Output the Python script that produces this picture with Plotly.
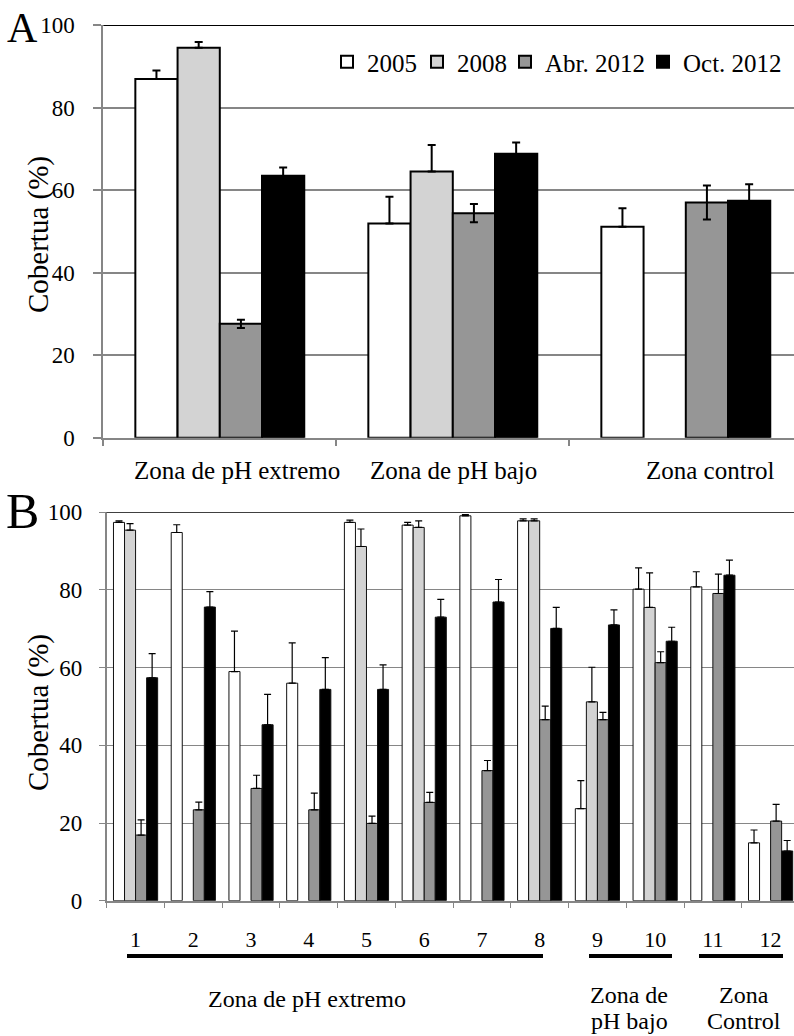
import plotly.graph_objects as go

W, H = 794, 1036

# ---------------- data ----------------
series_names = ["2005", "2008", "Abr. 2012", "Oct. 2012"]
series_colors = ["#FFFFFF", "#D3D3D3", "#969696", "#000000"]

# Panel A
zones_A = ["Zona de pH extremo", "Zona de pH bajo", "Zona control"]
a_2005 = [86.9, 51.9, 51.1]
a_2005_err = [2.1, 6.5, 4.5]
a_2008 = [94.5, 64.5, None]
a_2008_err = [1.4, 6.4, 0]
a_abr2012 = [27.6, 54.4, 57.0]
a_abr2012_err = [1.0, 2.2, 4.1]
a_oct2012 = [63.5, 68.8, 57.4]
a_oct2012_err = [2.0, 2.7, 4.0]

# Panel B
sites_B = ["1", "2", "3", "4", "5", "6", "7", "8", "9", "10", "11", "12"]
b_2005 = [97.4, 94.8, 59.0, 56.0, 97.4, 96.7, 99.1, 97.8, 23.7, 80.2, 80.8, 14.9]
b_2005_err = [0.4, 2.0, 10.4, 10.4, 0.6, 0.7, 0.3, 0.5, 7.2, 5.5, 3.9, 3.3]
b_2008 = [95.4, None, None, None, 91.2, 96.1, None, 97.8, 51.2, 75.5, None, None]
b_2008_err = [1.7, 0, 0, 0, 4.5, 1.7, 0, 0.5, 8.9, 8.9, 0, 0]
b_abr2012 = [16.9, 23.4, 28.9, 23.4, 19.9, 25.3, 33.5, 46.6, 46.6, 61.3, 79.1, 20.5]
b_abr2012_err = [3.9, 2.0, 3.4, 4.3, 1.9, 2.6, 2.6, 3.5, 1.9, 2.8, 5.0, 4.3]
b_oct2012 = [57.4, 75.6, 45.3, 54.4, 54.4, 73.0, 76.9, 70.1, 71.0, 66.8, 83.8, 12.8]
b_oct2012_err = [6.2, 4.0, 7.8, 8.2, 6.3, 4.6, 5.8, 5.4, 3.9, 3.6, 3.9, 2.7]

groups_B = [("Zona de pH extremo",), ("Zona de", "pH bajo"), ("Zona", "Control")]

y_ticks = [0, 20, 40, 60, 80, 100]

# ---------------- helpers ----------------
def px(x):
    return x / W

def py(y):
    return 1 - y / H

FONT = "Liberation Serif"
GRID = "#868686"

fig = go.Figure()

A_vals = [a_2005, a_2008, a_abr2012, a_oct2012]
A_errs = [a_2005_err, a_2008_err, a_abr2012_err, a_oct2012_err]
A_sym = [False, False, True, True]
legend_ids = ["legend", "legend2", "legend3", "legend4"]

for i, name in enumerate(series_names):
    err = dict(type="data", array=A_errs[i], color="black", thickness=2, width=4, visible=True)
    if A_sym[i]:
        err["symmetric"] = True
    else:
        err["symmetric"] = False
        err["arrayminus"] = [0] * len(A_errs[i])
    fig.add_trace(go.Bar(
        x=zones_A, y=A_vals[i], name=name,
        marker=dict(color=series_colors[i], line=dict(color="black", width=2)),
        error_y=err, xaxis="x", yaxis="y", legend=legend_ids[i], showlegend=True,
    ))

B_vals = [b_2005, b_2008, b_abr2012, b_oct2012]
B_errs = [b_2005_err, b_2008_err, b_abr2012_err, b_oct2012_err]
B_gap = 0.235
B_w = (1 - B_gap) / 4
for i, name in enumerate(series_names):
    fig.add_trace(go.Bar(
        x=sites_B, y=B_vals[i], name=name,
        width=B_w, offset=-(1 - B_gap) / 2 + i * B_w,
        marker=dict(color=series_colors[i], line=dict(color="#111111", width=1)),
        error_y=dict(type="data", array=B_errs[i], arrayminus=[0] * len(B_errs[i]),
                     symmetric=False, color="black", thickness=1.2, width=3.5),
        xaxis="x2", yaxis="y2", showlegend=False,
    ))

# axes geometry (pixels measured from reference)
A_left, A_top, A_bottom = 103.3, 25.0, 437.7
A_cat = 233.0
B_left, B_top, B_bottom = 106.7, 512.3, 900.7
B_cat = 57.73

common_y = dict(
    range=[0, 100], tickvals=y_ticks, showgrid=True, gridcolor=GRID,
    zeroline=False, showline=True, linecolor=GRID, ticks="outside",
    tickcolor=GRID, tickfont=dict(family=FONT, size=23, color="black"),
    automargin=False,
)

fig.update_layout(
    width=W, height=H, margin=dict(l=0, r=0, t=0, b=0, pad=0, autoexpand=False),
    paper_bgcolor="white", plot_bgcolor="white",
    barmode="group", bargap=0.275,
    showlegend=True,
    font=dict(family=FONT, color="black"),
    xaxis=dict(domain=[px(A_left), 1], range=[-0.5, -0.5 + (W - A_left) / A_cat],
               type="category", showticklabels=False, showline=True, linecolor=GRID,
               linewidth=2, ticks="outside", tickson="boundaries", ticklen=6,
               tickwidth=2, tickcolor=GRID, showgrid=False, zeroline=False,
               anchor="y", automargin=False),
    yaxis=dict(domain=[py(A_bottom), py(A_top)], gridwidth=2, linewidth=2,
               ticklen=8, tickwidth=2, ticklabelstandoff=14, anchor="x", **common_y),
    xaxis2=dict(domain=[px(B_left), 1], range=[-0.5, -0.5 + (W - B_left) / B_cat],
                type="category", showline=True, linecolor=GRID, linewidth=1.5,
                ticks="outside", tickson="boundaries", ticklen=6, tickwidth=1.2,
                tickcolor=GRID, showgrid=False, zeroline=False,
                tickfont=dict(family=FONT, size=22, color="black"),
                ticklabelstandoff=18, anchor="y2", automargin=False),
    yaxis2=dict(domain=[py(B_bottom), py(B_top)], gridwidth=1.3, linewidth=1.5,
                ticklen=6, tickwidth=1.2, ticklabelstandoff=12, anchor="x2", **common_y),
)

# legends: one per series, placed individually
leg_text_left = [367, 457, 545, 683]
leg_font = dict(family=FONT, size=25, color="black")
for i, lid in enumerate(legend_ids):
    fig.update_layout({lid: dict(
        x=px(leg_text_left[i] - 40), y=py(62), xanchor="left", yanchor="middle",
        bgcolor="rgba(0,0,0,0)", borderwidth=0, font=leg_font,
        itemclick=False, itemdoubleclick=False, tracegroupgap=0,
    )})

# black line at 100 (top border)
for xr, yr, w in [("x domain", "y", 2), ("x2 domain", "y2", 1.5)]:
    fig.add_shape(type="line", xref=xr, yref=yr, x0=0, x1=1, y0=100, y1=100,
                  line=dict(color="black", width=w), layer="above")

ann = []
# panel letters
ann.append(dict(text="A", x=px(22), y=py(28), font=dict(family=FONT, size=42, color="black")))
ann.append(dict(text="B", x=px(22), y=py(511), font=dict(family=FONT, size=50, color="black")))
# y titles
for yc in [235, 713]:
    ann.append(dict(text="Cobertua (%)", x=px(38), y=py(yc), textangle=-90,
                    font=dict(family=FONT, size=29, color="black")))
# panel A zone labels
A_label_x = [237, 453, 710]
for lab, xc in zip(zones_A, A_label_x):
    ann.append(dict(text=lab, x=px(xc), y=py(470), font=dict(family=FONT, size=25, color="black")))
# panel B group labels
B_label_pos = [[(307, 999)], [(629, 995), (629, 1021)], [(744, 995), (744, 1021)]]
for lines, poss in zip(groups_B, B_label_pos):
    for t, (xc, yc) in zip(lines, poss):
        ann.append(dict(text=t, x=px(xc), y=py(yc), font=dict(family=FONT, size=24, color="black")))
for a in ann:
    a.update(xref="paper", yref="paper", showarrow=False, xanchor="center", yanchor="middle")
fig.update_layout(annotations=ann)

# group underline bars in panel B
B_lines = [(127, 543), (589, 672), (699, 783)]
for x0, x1 in B_lines:
    fig.add_shape(type="line", xref="paper", yref="paper", x0=px(x0), x1=px(x1),
                  y0=py(956), y1=py(956), line=dict(color="black", width=4))

fig.write_html(
    "out.html",
    config={"displayModeBar": False},
    post_script="document.body.style.margin='0';document.body.style.overflow='hidden';",
)
